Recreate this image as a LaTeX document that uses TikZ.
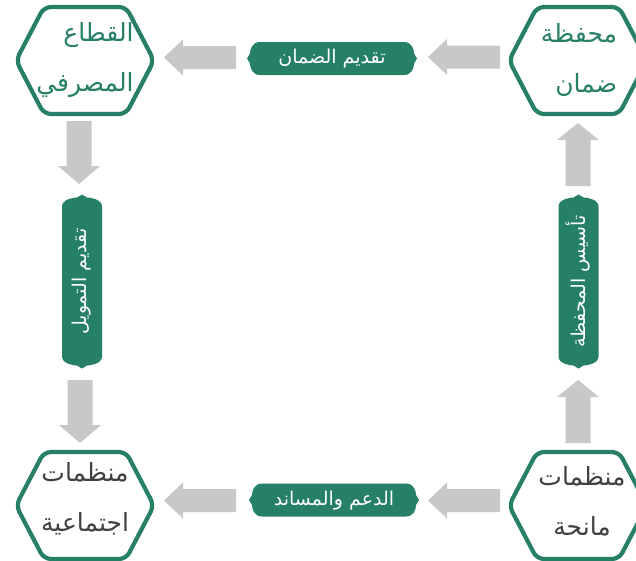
\documentclass[tikz,border=0pt]{standalone}
\usepackage{fontspec}
\newfontfamily\arabicfont[Script=Arabic]{DejaVu Sans}
\TeXXeTstate=1
\definecolor{tealg}{RGB}{38,127,103}
\definecolor{arrowg}{RGB}{200,200,200}
\definecolor{darktext}{RGB}{64,64,64}
\tikzset{
  hexline/.style={draw=tealg, line width=4.2pt, fill=white, rounded corners=7pt, line join=round},
  hextext/.style={font=\arabicfont\fontsize{25}{50}\selectfont, inner sep=0pt},
  labeltext/.style={font=\arabicfont\fontsize{19}{22}\selectfont, text=white, inner sep=0pt},
  labelfill/.style={fill=tealg},
  blockarrow/.style={fill=arrowg},
  hexa/.pic={\path[hexline] (-69,0) -- (-41,-53.5) -- (41,-53.5) -- (69,0) -- (41,53.5) -- (-41,53.5) -- cycle;},
  lshape/.pic={\path[labelfill] (-72,-16.5) -- (72,-16.5)
      .. controls (80,-16.5) and (82,-9) .. (82,-5) -- (85,0) -- (82,5)
      .. controls (82,9) and (80,16.5) .. (72,16.5) -- (-72,16.5)
      .. controls (-80,16.5) and (-82,9) .. (-82,5) -- (-85,0) -- (-82,-5)
      .. controls (-82,-9) and (-80,-16.5) .. (-72,-16.5) -- cycle;},
  vshape/.pic={\path[labelfill] (-20,-75) -- (-20,75)
      .. controls (-20,82) and (-9,84) .. (-5,84) -- (0,87) -- (5,84)
      .. controls (9,84) and (20,82) .. (20,75) -- (20,-75)
      .. controls (20,-82) and (9,-84) .. (5,-84) -- (0,-87) -- (-5,-84)
      .. controls (-9,-84) and (-20,-82) .. (-20,-75) -- cycle;},
  larrow/.pic={\path[blockarrow] (0,0) -- (19,-18) -- (19,-11.5) -- (72,-11.5) -- (72,11.5) -- (19,11.5) -- (19,18) -- cycle;},
  darrow/.pic={\path[blockarrow] (0,0) -- (-21,-18) -- (-12.5,-18) -- (-12.5,-63) -- (12.5,-63) -- (12.5,-18) -- (21,-18) -- cycle;},
  uarrow/.pic={\path[blockarrow] (0,0) -- (-21,17) -- (-12.5,17) -- (-12.5,63) -- (12.5,63) -- (12.5,17) -- (21,17) -- cycle;}
}
\begin{document}
\begin{tikzpicture}[x=1pt,y=-1pt]
\useasboundingbox (0,0) rectangle (636,560);
\clip (0,0) rectangle (636,560);
% hexagons
\pic at (85,60.5) {hexa};
\pic at (578,60.5) {hexa};
\pic at (85,505.5) {hexa};
\pic at (578,505.5) {hexa};
\node[hextext, text=tealg, align=right] (bank) at (85,60) {\beginR القطاع\endR\\\beginR المصرفي\endR};
\node[hextext, text=tealg, align=right] (fund) at (579,60) {\beginR محفظة\endR\\\beginR ضمان\endR};
\node[hextext, text=darktext, align=center] (social) at (85,499) {\beginR منظمات\endR\\\beginR اجتماعية\endR};
\node[hextext, text=darktext, align=center] (donor) at (582,501) {\beginR منظمات\endR\\\beginR مانحة\endR};
% labels
\pic at (332,58.5) {lshape};
\node[labeltext] (guar) at (332,59) {\beginR تقديم الضمان\endR};
\pic at (334,500) {lshape};
\node[labeltext] (supp) at (334,500.5) {\beginR الدعم والمساند\endR};
\pic at (82,281.5) {vshape};
\node[labeltext, rotate=90] (finance) at (82,281.5) {\beginR تقديم التمويل\endR};
\pic at (578.5,281.5) {vshape};
\node[labeltext, rotate=90] (found) at (578.5,281.5) {\beginR تأسيس المحفظة\endR};
% block arrows
\pic at (164,57.5) {larrow};
\pic at (428,57) {larrow};
\pic at (164,500.5) {larrow};
\pic at (428,500.5) {larrow};
\pic at (79,184) {darrow};
\pic at (80,443) {darrow};
\pic at (578,123) {uarrow};
\pic at (578,380) {uarrow};
\end{tikzpicture}
\end{document}
